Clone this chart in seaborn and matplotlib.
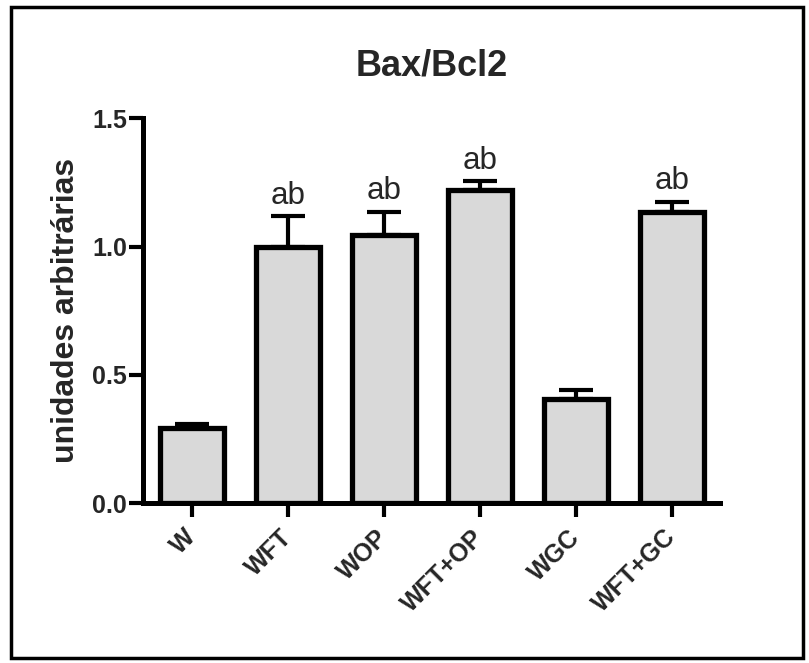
import matplotlib
matplotlib.use("Agg")
import matplotlib.pyplot as plt
import seaborn as sns
import pandas as pd
from matplotlib.patches import Rectangle

# Bax/Bcl2 ratio per group (mean and upper SEM)
groups = ["W", "WFT", "WOP", "WFT+OP", "WGC", "WFT+GC"]
means = [0.293, 1.00, 1.044, 1.222, 0.405, 1.135]
sem = [0.016, 0.118, 0.093, 0.033, 0.035, 0.040]
letters = ["", "ab", "ab", "ab", "", "ab"]
y_ticks = [0.0, 0.5, 1.0, 1.5]

sns.set_theme(style="ticks")
plt.rcParams["font.family"] = ["Liberation Sans", "DejaVu Sans"]

df = pd.DataFrame({"grupo": groups, "valor": means})

fig = plt.figure(figsize=(8.09, 6.63), dpi=100)
ax = fig.add_axes([0.1768, 0.2413, 0.890 - 0.1768, 0.8213 - 0.2413])

sns.barplot(data=df, x="grupo", y="valor", order=groups, color="#d9d9d9",
            saturation=1, width=0.667, errorbar=None, edgecolor="black",
            linewidth=3.8, ax=ax, zorder=2)

# upper-only error bars
ax.errorbar(range(len(groups)), means, yerr=[[0] * len(groups), sem],
            fmt="none", ecolor="black", elinewidth=3, capsize=12,
            capthick=3, zorder=1)

for i, (m, s, t) in enumerate(zip(means, sem, letters)):
    if t:
        ax.annotate(t, xy=(i, m + s), xytext=(0, 9), textcoords="offset points",
                    ha="center", va="baseline", fontsize=22.5)

ax.set_xlim(-0.51, 5.5)
ax.set_ylim(0, 1.5)
sns.despine(ax=ax)
for side in ("left", "bottom"):
    ax.spines[side].set_linewidth(3.6)
    ax.spines[side].set_color("black")

ax.tick_params(axis="both", width=3, length=10, direction="out", color="black")
ax.tick_params(axis="y", pad=1.5)
ax.tick_params(axis="x", pad=12)

ax.set_yticks(y_ticks)
ax.set_yticklabels([f"{t:.1f}" for t in y_ticks], fontsize=18, fontweight="bold")
ax.set_xticks(range(len(groups)))
ax.set_xticklabels(groups, rotation=45, ha="right", va="center",
                   rotation_mode="anchor", fontsize=18, fontweight="bold")

ax.set_xlabel("")
ax.set_ylabel("unidades arbitrárias", fontsize=23, fontweight="bold", labelpad=8)
ax.set_title("Bax/Bcl2", fontsize=26, fontweight="bold", pad=31)

# outer frame around the figure
fig.add_artist(Rectangle((11 / 809, 1 - 658 / 663), (803 - 11) / 809, (658 - 6.5) / 663,
                         transform=fig.transFigure, fill=False,
                         edgecolor="black", linewidth=2.5))

fig.savefig("out.png", dpi=100)
